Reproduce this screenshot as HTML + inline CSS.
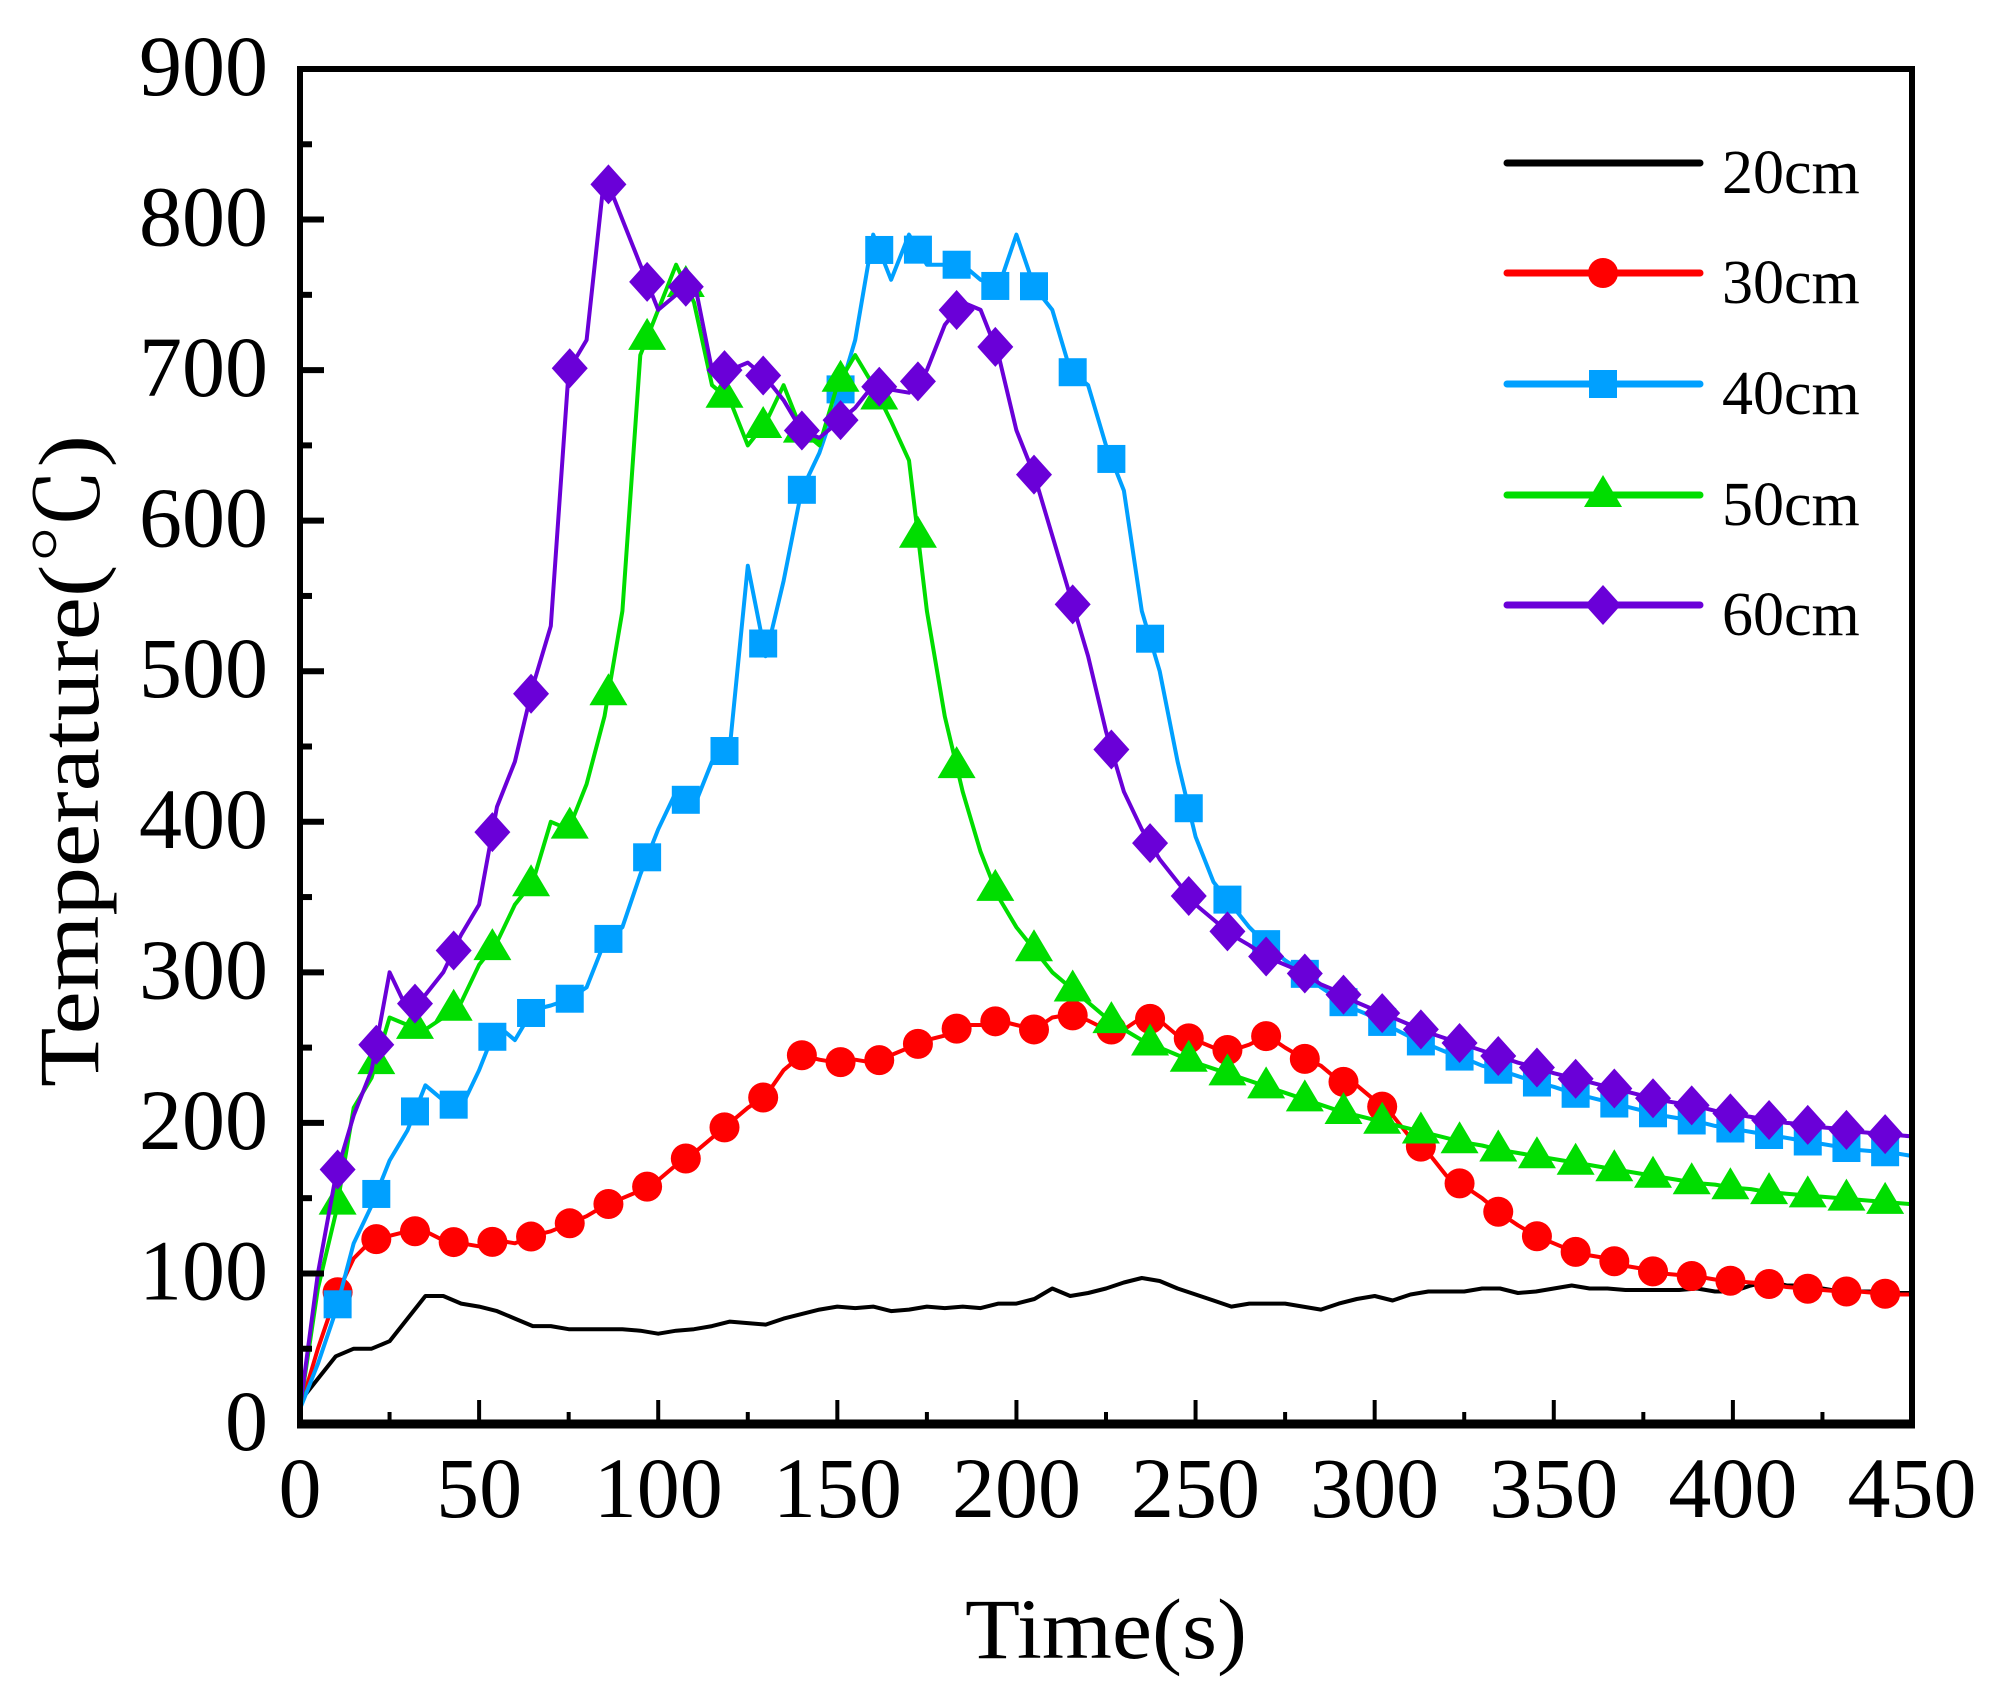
<!DOCTYPE html>
<html><head><meta charset="utf-8"><style>
html,body{margin:0;padding:0;background:#fff}
svg{display:block}
text{font-family:"Liberation Serif","Noto Serif CJK SC",serif;fill:#000}
</style></head><body>
<svg id="chart" width="1995" height="1707" viewBox="0 0 1995 1707" xmlns="http://www.w3.org/2000/svg">
<g id="series"></g>
<g id="axes"></g>
<g id="legend"></g>
</svg>
<script>
const times = [];
for (let t = 0; t <= 450; t += 5) times.push(t);
const s20 = [15,30,45,50,50,55,70,85,85,80,78,75,70,65,65,63,63,63,63,62,60,62,63,65,68,67,66,70,73,76,78,77,78,75,76,78,77,78,77,80,80,83,90,85,87,90,94,97,95,90,86,82,78,80,80,80,78,76,80,83,85,82,86,88,88,88,90,90,87,88,90,92,90,90,89,89,89,89,90,88,88,92,95,92,92,90,88,88,88,87,87];
const s30 = [10,50,85,110,122,125,128,128,122,120,118,122,120,125,128,133,138,145,150,155,162,172,180,190,200,210,218,235,245,242,240,242,240,245,250,255,258,265,265,268,265,262,270,272,268,262,262,270,268,258,255,250,248,252,258,250,243,238,228,225,215,205,190,180,165,158,150,140,132,125,120,115,112,110,105,103,100,99,98,96,95,94,93,91,90,89,88,88,87,86,86];
const s40 = [10,40,75,120,145,175,195,225,215,210,235,265,255,275,278,282,290,320,330,365,395,420,410,440,450,570,510,560,620,645,680,720,790,760,790,770,770,770,760,755,790,755,740,700,690,650,620,540,500,440,390,360,345,330,318,308,300,290,282,275,270,263,257,252,247,243,238,235,231,227,224,220,217,214,211,208,205,203,201,198,196,194,192,190,188,186,184,182,181,180,178];
const s50 = [10,90,140,210,230,270,265,262,270,280,305,320,345,360,400,395,425,470,540,710,740,770,745,690,680,650,665,690,660,650,690,710,690,666,640,540,470,420,380,350,330,315,300,290,280,270,262,255,250,245,240,236,232,228,224,220,216,212,208,205,202,199,196,193,190,187,185,182,180,178,176,174,172,170,168,166,164,162,160,159,157,156,154,153,152,151,150,149,148,147,146];
const s60 = [10,100,165,205,235,300,275,285,300,325,345,410,440,490,530,700,720,830,800,770,740,750,760,700,700,705,695,680,660,655,665,675,690,687,685,700,730,745,740,710,660,630,590,550,510,460,420,395,375,360,345,335,325,318,310,305,300,292,287,280,275,270,265,260,256,252,248,244,240,237,233,230,227,224,221,218,215,213,211,208,206,204,202,200,199,197,196,194,193,192,191];
const markerStep = 10.8;
const xTicks = [0,50,100,150,200,250,300,350,400,450];
const yTicks = [0,100,200,300,400,500,600,700,800,900];
const legendLabels = ["20cm","30cm","40cm","50cm","60cm"];

const X0=300, X1=1912, Y0=1424, Y1=69;
function xs(t){return X0+(t/450)*(X1-X0);}
function ys(v){return Y0-(v/900)*(Y0-Y1);}
const NS="http://www.w3.org/2000/svg";
function mk(tag,attrs,parent){const e=document.createElementNS(NS,tag);for(const k in attrs)e.setAttribute(k,attrs[k]);parent.appendChild(e);return e;}
function interp(arr,t){const i=Math.min(Math.floor(t/5),arr.length-2);const f=(t-i*5)/5;return arr[i]+(arr[i+1]-arr[i])*f;}

const seriesDefs=[
 {data:s20,color:"#000000",shape:null,name:"20cm"},
 {data:s30,color:"#ff0000",shape:"circle",name:"30cm"},
 {data:s40,color:"#00a0ff",shape:"square",name:"40cm"},
 {data:s50,color:"#00dd00",shape:"triangle",name:"50cm"},
 {data:s60,color:"#6a00d8",shape:"diamond",name:"60cm"}
];
function marker(shape,cx,cy,color,g){
 let e;
 if(shape==="circle"){e=mk("circle",{cx:cx,cy:cy,r:15,fill:color},g);}
 else if(shape==="square"){e=mk("rect",{x:cx-14,y:cy-14,width:28,height:28,fill:color},g);}
 else if(shape==="triangle"){e=mk("polygon",{points:`${cx},${cy-20} ${cx-19},${cy+12} ${cx+19},${cy+12}`,fill:color},g);}
 else {e=mk("polygon",{points:`${cx},${cy-20} ${cx+18},${cy} ${cx},${cy+20} ${cx-18},${cy}`,fill:color},g);}
 return e;
}
const sg=document.getElementById("series");
seriesDefs.forEach(s=>{
 const g=mk("g",{},sg);
 
 
 const d=s.data.map((v,i)=>(i?"L":"M")+xs(times[i]).toFixed(1)+","+ys(v).toFixed(1)).join("");
 const p=mk("path",{d:d,fill:"none",stroke:s.color,"stroke-width":4,"stroke-linejoin":"round"},g);
 
 
 if(s.shape){
  for(let t=10.5;t<=450;t+=markerStep){
   const m=marker(s.shape,xs(t),ys(interp(s.data,t)),s.color,g);
   
   
  }
 }
});

const ag=document.getElementById("axes");
const frame=mk("rect",{x:X0,y:Y1,width:X1-X0,height:Y0-Y1,fill:"none",stroke:"#000","stroke-width":6},ag);


const xAxisLine=mk("line",{x1:X0-3,y1:Y0,x2:X1+3,y2:Y0,stroke:"#000","stroke-width":9},ag);


for(let t=0;t<=450;t+=25){
 const major=t%50===0;
 const tk=mk("line",{x1:xs(t),y1:Y0,x2:xs(t),y2:Y0-(major?24:12),stroke:"#000","stroke-width":4},ag);
 
 
}
xTicks.forEach(t=>{
 const tl=mk("text",{x:xs(t),y:1517,"text-anchor":"middle","font-size":86},ag);
 tl.textContent=t;
 
 
});
for(let v=0;v<=900;v+=50){
 const major=v%100===0;
 const tk=mk("line",{x1:X0,y1:ys(v),x2:X0+(major?24:12),y2:ys(v),stroke:"#000","stroke-width":6},ag);
 
 
}
yTicks.forEach(v=>{
 const tl=mk("text",{x:268,y:ys(v)+26,"text-anchor":"end","font-size":86},ag);
 tl.textContent=v;
 
 
});
const xt=mk("text",{x:965,y:1658,"font-size":86,textLength:282,lengthAdjust:"spacingAndGlyphs"},ag);
xt.textContent="Time(s)";


const yt=mk("text",{x:0,y:0,"font-size":86,textLength:652,lengthAdjust:"spacingAndGlyphs",transform:"translate(98,1087) rotate(-90)"},ag);
yt.textContent="Temperature(℃)";



const lg=document.getElementById("legend");
const legY=[163,273,384,495,605];
seriesDefs.forEach((s,i)=>{
 const g=mk("g",{},lg);
 
 
 mk("line",{x1:1507,y1:legY[i],x2:1700,y2:legY[i],stroke:s.color,"stroke-width":7,"stroke-linecap":"round"},g);
 if(s.shape) marker(s.shape,1603,legY[i],s.color,g);
 const t=mk("text",{x:1722,y:legY[i]+30,"font-size":62},g);
 t.textContent=legendLabels[i];
});
</script>
</body></html>
